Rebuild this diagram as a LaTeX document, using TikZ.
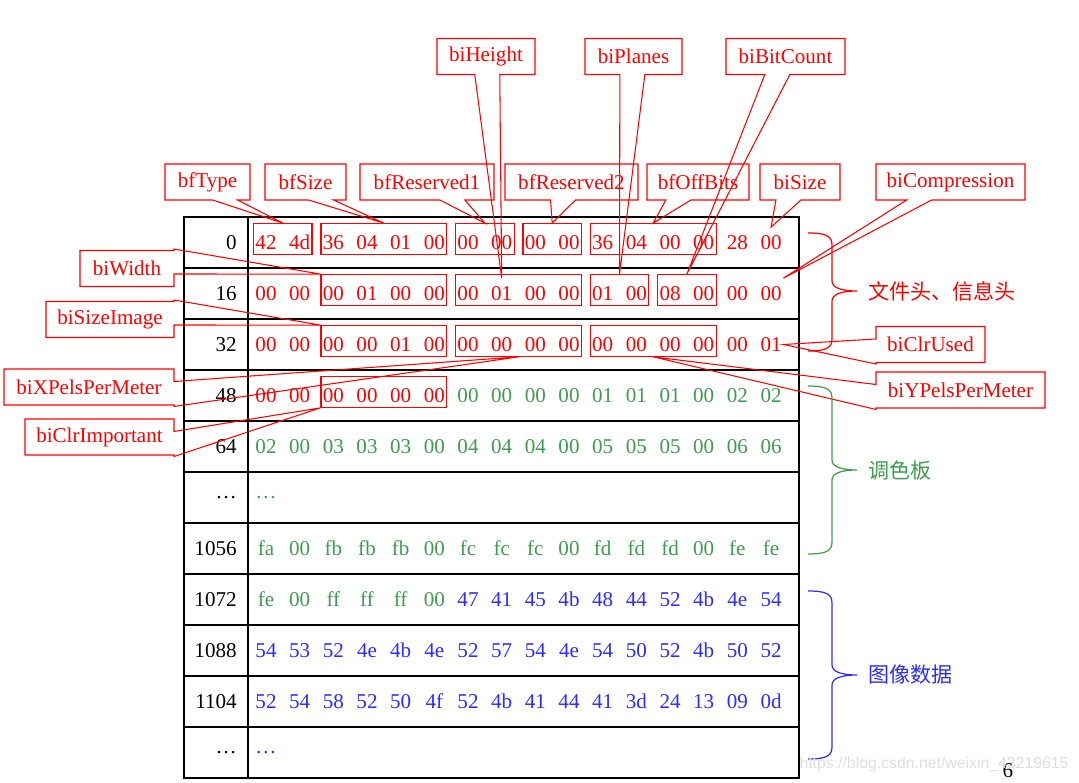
\documentclass[tikz,border=0pt]{standalone}
\usepackage{fontspec}
\setmainfont{Liberation Serif}
\newfontfamily\cjk{Noto Sans CJK SC}
\newfontfamily\wmfont{Liberation Sans}
\usepackage{tikz}
\usetikzlibrary{calc,fit,shapes.callouts}
\definecolor{hexRed}{HTML}{FF0000}
\definecolor{hexGreen}{HTML}{3F9C4F}
\definecolor{hexBlue}{HTML}{2C2CFF}

\begin{document}
\begin{tikzpicture}[x=0.02cm,y=-0.02cm,
    font=\fontsize{12}{14}\selectfont,
    grid/.style={line width=0.8pt},
    rowlab/.style={anchor=east,inner sep=0pt},
    hexcell/.style={inner sep=0pt,minimum width=0.48cm,minimum height=0.6cm},
    grpbox/.style={draw=hexRed,line width=0.6pt,inner sep=0pt,yshift=2pt},
    tag/.style={rectangle callout,draw=hexRed,text=hexRed,line width=0.6pt,
      minimum height=0.72cm,inner sep=0pt,callout pointer width=0.5cm},
    bracepath/.style={line width=0.7pt},
    cjklab/.style={anchor=west,inner sep=0pt,font=\cjk\fontsize{12}{14}\selectfont}]
    \useasboundingbox (0,0) rectangle (1079,783);
    \draw[grid] (184,217) rectangle (799,778);
    \draw[grid] (248,217) -- (248,778);
    \foreach \k in {1,...,10}
      \draw[grid] (184,{217+51*\k}) -- (799,{217+51*\k});
    \foreach \r/\off/\split/\ca/\cb/\bytes in {
      0/0/16/hexRed/hexRed/{42,4d,36,04,01,00,00,00,00,00,36,04,00,00,28,00},
      1/16/16/hexRed/hexRed/{00,00,00,01,00,00,00,01,00,00,01,00,08,00,00,00},
      2/32/16/hexRed/hexRed/{00,00,00,00,01,00,00,00,00,00,00,00,00,00,00,01},
      3/48/6/hexRed/hexGreen/{00,00,00,00,00,00,00,00,00,00,01,01,01,00,02,02},
      4/64/16/hexGreen/hexGreen/{02,00,03,03,03,00,04,04,04,00,05,05,05,00,06,06},
      5/\dots/16/hexGreen/hexGreen/\dots,
      6/1056/16/hexGreen/hexGreen/{fa,00,fb,fb,fb,00,fc,fc,fc,00,fd,fd,fd,00,fe,fe},
      7/1072/6/hexGreen/hexBlue/{fe,00,ff,ff,ff,00,47,41,45,4b,48,44,52,4b,4e,54},
      8/1088/16/hexBlue/hexBlue/{54,53,52,4e,4b,4e,52,57,54,4e,54,50,52,4b,50,52},
      9/1104/16/hexBlue/hexBlue/{52,54,58,52,50,4f,52,4b,41,44,41,3d,24,13,09,0d},
      10/\dots/16/hexBlue/hexBlue/\dots} {
      \node[rowlab] (off-\r) at (237,{242.5+51*\r}) {\off};
      \foreach \b [count=\i] in \bytes {
        \ifnum\i>\split\relax\def\hexc{\cb}\else\def\hexc{\ca}\fi
        \node[hexcell,text=\hexc] (b-\r-\i) at ({266+33.67*(\i-1)},{242.5+51*\r}) {\b};
      }
    }
    \foreach \g/\r/\f/\l in {0a/0/1/2,0b/0/3/6,0c/0/7/8,0d/0/9/10,0e/0/11/14,
      1a/1/3/6,1b/1/7/10,1c/1/11/12,1d/1/13/14,2a/2/3/6,2b/2/7/10,2c/2/11/14,3a/3/3/6}
      \node[grpbox,fit=(b-\r-\f)(b-\r-\l)] (g\g) {};
    \node[tag,minimum width=1.70cm,callout absolute pointer={(g0a.north)}] (bfType) at (207.5,182) {bfType};
    \node[tag,minimum width=1.62cm,callout absolute pointer={(g0b.north)}] (bfSize) at (305.5,182) {bfSize};
    \node[tag,minimum width=2.68cm,callout absolute pointer={(g0c.north)}] (bfResA) at (427,182) {bfReserved1};
    \node[tag,minimum width=2.66cm,callout absolute pointer={(g0d.north)}] (bfResB) at (571.5,182) {bfReserved2};
    \node[tag,minimum width=2.04cm,callout absolute pointer={(g0e.north)}] (bfOffBits) at (698,182) {bfOffBits};
    \node[tag,minimum width=1.60cm,callout absolute pointer={(b-0-16.north)}] (biSize) at (800,182) {biSize};
    \node[tag,minimum width=2.98cm,callout absolute pointer={(b-1-16.north east)}] (biCompression) at (950.5,182) {biCompression};
    \node[tag,minimum width=1.96cm,callout absolute pointer={(b-1-8.north)}] (biHeight) at (486,56.5) {biHeight};
    \node[tag,minimum width=1.94cm,callout absolute pointer={(g1c.north)}] (biPlanes) at (633.5,56.5) {biPlanes};
    \node[tag,minimum width=2.38cm,callout absolute pointer={(g1d.north)}] (biBitCount) at (785.5,56.5) {biBitCount};
    \node[tag,minimum width=1.88cm,callout absolute pointer={(g1a.north west)}] (biWidth) at (127,268.5) {biWidth};
    \node[tag,minimum width=2.56cm,callout absolute pointer={(g2a.north west)}] (biSizeImage) at (110,319.5) {biSizeImage};
    \node[tag,minimum width=3.40cm,callout absolute pointer={(g2b.south)}] (biXPels) at (89,387) {biXPelsPerMeter};
    \node[tag,minimum width=2.98cm,callout absolute pointer={(g3a.south west)}] (biClrImportant) at (99.5,437) {biClrImportant};
    \node[tag,minimum width=2.18cm,callout absolute pointer={(b-2-16.east)}] (biClrUsed) at (930.5,344.5) {biClrUsed};
    \node[tag,minimum width=3.38cm,callout absolute pointer={(g2c.south)}] (biYPels) at (960.5,390) {biYPelsPerMeter};
    \foreach \t/\m/\bt/\c/\txt in {233/291/351/hexRed/文件头、信息头,
      386/470/554/hexGreen/调色板, 591/675/759/hexBlue/图像数据} {
      \draw[bracepath,\c] (808,\t) .. controls (826,\t) and (832,\t+3) .. (832,\t+12)
        -- (832,\m-10) .. controls (832,\m-3) and (842,\m) .. (857,\m)
        .. controls (842,\m) and (832,\m+3) .. (832,\m+10)
        -- (832,\bt-12) .. controls (832,\bt-3) and (826,\bt) .. (808,\bt);
      \node[cjklab,text=\c] (part-\m) at (868,\m) {\txt};
    }
    \node (pageno) at (1008,771) {6};
    \node[text=black!13,font=\wmfont\fontsize{9}{10}\selectfont] (mark) at (934,764) {https://blog.csdn.net/weixin\_43219615};
  \end{tikzpicture}
\end{document}
